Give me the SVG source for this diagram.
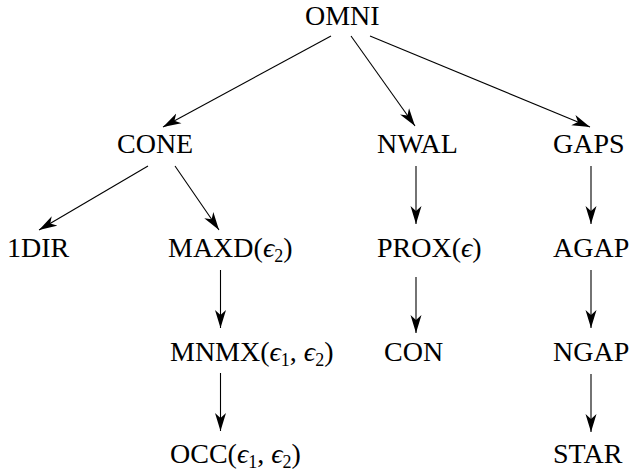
<svg xmlns="http://www.w3.org/2000/svg" width="631" height="476" viewBox="0 0 631 476">
<style>
text{font-size:28px;fill:#000}
.e{font-style:italic}
.s{font-size:18px}
.c line{stroke:#000;stroke-width:1.1;marker-end:url(#ah)}
</style>
<defs>
<marker id="ah" markerUnits="userSpaceOnUse" viewBox="-18 -6 18 12" markerWidth="18" markerHeight="12" refX="0" refY="0" orient="auto">
<path d="M0,0 L-18,-5.5 L-13,0 L-18,5.5 Z" fill="#000"/>
</marker>
</defs>
<rect width="631" height="476" fill="#fff"/>
<g class="c" id="connectors">
<line x1="331" y1="36" x2="163" y2="127"/>
<line x1="351" y1="36" x2="415" y2="126"/>
<line x1="370" y1="36" x2="590" y2="127"/>
<line x1="148" y1="166" x2="39" y2="230"/>
<line x1="175" y1="166" x2="219" y2="230"/>
<line x1="416" y1="166" x2="416" y2="224"/>
<line x1="591" y1="166" x2="591" y2="224"/>
<line x1="220.5" y1="270" x2="220.5" y2="328"/>
<line x1="416" y1="277" x2="416" y2="333"/>
<line x1="591" y1="270" x2="591" y2="328"/>
<line x1="220.5" y1="373" x2="220.5" y2="431"/>
<line x1="591" y1="374" x2="591" y2="432"/>
</g>
<g id="OMNI"><text style="font-family:'Times New Roman',serif" x="305" y="25">OMNI</text></g>
<g id="CONE"><text style="font-family:'Times New Roman',serif" x="117" y="153">CONE</text></g>
<g id="NWAL"><text style="font-family:'Times New Roman',serif" x="377" y="153">NWAL</text></g>
<g id="GAPS"><text style="font-family:'Times New Roman',serif" x="553" y="153">GAPS</text></g>
<g id="1DIR"><text style="font-family:'Times New Roman',serif" x="7" y="257">1DIR</text></g>
<g id="MAXD"><text style="font-family:'Times New Roman',serif" x="168" y="257">MAXD(<tspan class="e">ϵ</tspan><tspan class="s" dy="5">2</tspan><tspan dy="-5">)</tspan></text></g>
<g id="PROX"><text style="font-family:'Times New Roman',serif" x="377" y="257">PROX(<tspan class="e">ϵ</tspan>)</text></g>
<g id="AGAP"><text style="font-family:'Times New Roman',serif" x="553" y="257">AGAP</text></g>
<g id="MNMX"><text style="font-family:'Times New Roman',serif" x="170" y="361">MNMX(<tspan class="e">ϵ</tspan><tspan class="s" dy="5">1</tspan><tspan dy="-5">, </tspan><tspan class="e">ϵ</tspan><tspan class="s" dy="5">2</tspan><tspan dy="-5">)</tspan></text></g>
<g id="CON"><text style="font-family:'Times New Roman',serif" x="384" y="361">CON</text></g>
<g id="NGAP"><text style="font-family:'Times New Roman',serif" x="553" y="361">NGAP</text></g>
<g id="OCC"><text style="font-family:'Times New Roman',serif" x="170" y="463">OCC(<tspan class="e">ϵ</tspan><tspan class="s" dy="5">1</tspan><tspan dy="-5">, </tspan><tspan class="e">ϵ</tspan><tspan class="s" dy="5">2</tspan><tspan dy="-5">)</tspan></text></g>
<g id="STAR"><text style="font-family:'Times New Roman',serif" x="553" y="463">STAR</text></g>
</svg>
